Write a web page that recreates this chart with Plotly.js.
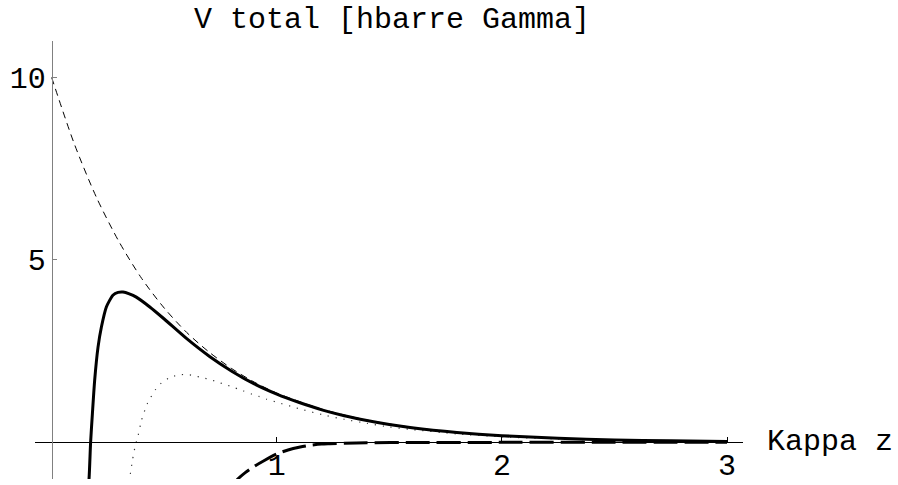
<!DOCTYPE html>
<html>
<head>
<meta charset="utf-8">
<script src="https://cdn.plot.ly/plotly-3.0.1.min.js"></script>
<style>html,body{margin:0;padding:0;background:#fff;}#chart{width:898px;height:485px;}</style>
</head>
<body>
<div id="chart"></div>
<script>
// Repulsive term (thin dashed)
const repX = [0, 0.1, 0.2, 0.3, 0.4, 0.5, 0.6, 0.7, 0.8, 0.9, 1.0, 1.2, 1.4, 1.6, 1.8, 2.0, 2.25, 2.5, 2.75, 3.0];
const repY = [10, 8.19, 6.70, 5.49, 4.49, 3.68, 3.01, 2.47, 2.02, 1.65, 1.35, 0.91, 0.61, 0.41, 0.27, 0.18, 0.11, 0.067, 0.041, 0.025];

// Total potential (thick solid)
const totX = [0.160, 0.166, 0.173, 0.181, 0.191, 0.206, 0.221, 0.243, 0.272, 0.295, 0.317, 0.345, 0.376, 0.436, 0.5, 0.6, 0.7, 0.8, 0.9, 1.0, 1.1, 1.2, 1.3, 1.4, 1.5, 1.6, 1.8, 2.0, 2.25, 2.5, 2.75, 3.0];
const totY = [-1.3, -1.0, 0.0, 0.79, 1.70, 2.61, 3.16, 3.71, 4.03, 4.11, 4.12, 4.07, 3.98, 3.71, 3.38, 2.84, 2.36, 1.95, 1.60, 1.32, 1.09, 0.89, 0.73, 0.60, 0.49, 0.40, 0.27, 0.18, 0.11, 0.065, 0.04, 0.024];

// Second total (dotted)
const dotX = [0.340, 0.347, 0.359, 0.372, 0.384, 0.399, 0.425, 0.462, 0.488, 0.521, 0.558, 0.593, 0.632, 0.668, 0.705, 0.742, 0.778, 0.815, 0.851, 0.885, 0.920, 0.955, 1.0, 1.1, 1.2, 1.3, 1.4, 1.5, 1.6, 1.8, 2.0, 2.25, 2.5, 2.75, 3.0];
const dotY = [-1.3, -0.97, -0.49, -0.08, 0.18, 0.60, 1.06, 1.45, 1.63, 1.76, 1.84, 1.86, 1.83, 1.77, 1.72, 1.64, 1.57, 1.49, 1.41, 1.33, 1.26, 1.18, 1.10, 0.92, 0.76, 0.63, 0.52, 0.42, 0.35, 0.23, 0.15, 0.09, 0.05, 0.03, 0.016];

// Attractive term (thick dashed)
const attX = [0.80, 0.828, 0.86, 0.90, 0.939, 1.0, 1.05, 1.104, 1.15, 1.2, 1.236, 1.3, 1.4, 1.6, 2.0, 2.5, 3.0];
const attY = [-1.2, -1.0, -0.83, -0.66, -0.52, -0.32, -0.21, -0.13, -0.08, -0.05, -0.04, -0.025, -0.012, -0.005, -0.002, -0.001, 0];

const xTicks = [1, 2, 3];
const yTicks = [5, 10];

const FONT = '"Liberation Mono", "Courier New", monospace';
const FS = 30;

const traces = [
  {x: repX, y: repY, mode: 'lines', line: {color: '#000', width: 1, dash: '7px,5px', shape: 'spline', smoothing: 0.8}, hoverinfo: 'skip'},
  {x: dotX, y: dotY, mode: 'lines', line: {color: '#333', width: 1.2, dash: '1.2px,6.8px', shape: 'spline', smoothing: 0.6}, hoverinfo: 'skip'},
  {x: attX, y: attY, mode: 'lines', line: {color: '#000', width: 3, dash: '24px,7px', shape: 'spline', smoothing: 0.6}, hoverinfo: 'skip'},
  {x: totX, y: totY, mode: 'lines', line: {color: '#000', width: 3, shape: 'spline', smoothing: 0.6}, hoverinfo: 'skip'}
];

const xr = [-0.074, 3.071], yr = [-1.006, 11.0];
const layout = {
  width: 898, height: 485,
  margin: {l: 35, r: 155, t: 41, b: 6, pad: 0},
  paper_bgcolor: '#fff', plot_bgcolor: '#fff',
  showlegend: false,
  font: {family: FONT, size: FS, color: '#000'},
  title: {text: 'V total [hbarre Gamma]', xref: 'container', x: 194/898, xanchor: 'left', yref: 'container', y: 1 - 17/485, yanchor: 'middle', font: {family: FONT, size: FS, color: '#000'}},
  xaxis: {
    range: xr, anchor: 'free', position: (0 - yr[0]) / (yr[1] - yr[0]),
    showline: true, linecolor: '#000', linewidth: 1,
    ticks: 'inside', ticklen: 5, tickcolor: '#000', tickwidth: 1,
    tickvals: xTicks, ticktext: xTicks.map(String),
    ticklabelstandoff: -4,
    showgrid: false, zeroline: false,
    tickfont: {family: FONT, size: FS, color: '#000'}
  },
  yaxis: {
    range: yr, anchor: 'free', position: (0 - xr[0]) / (xr[1] - xr[0]),
    showline: true, linecolor: '#808080', linewidth: 1,
    ticks: 'inside', ticklen: 4, tickcolor: '#808080', tickwidth: 1,
    tickvals: yTicks, ticktext: yTicks.map(String),
    showgrid: false, zeroline: false,
    tickfont: {family: FONT, size: FS, color: '#000'}
  },
  annotations: [
    {text: 'Kappa z', xref: 'x', yref: 'y', x: xr[1], y: 0, xanchor: 'left', yanchor: 'middle', xshift: 22, showarrow: false, font: {family: FONT, size: FS, color: '#000'}}
  ]
};

Plotly.newPlot('chart', traces, layout, {staticPlot: true, displayModeBar: false});
</script>
</body>
</html>
